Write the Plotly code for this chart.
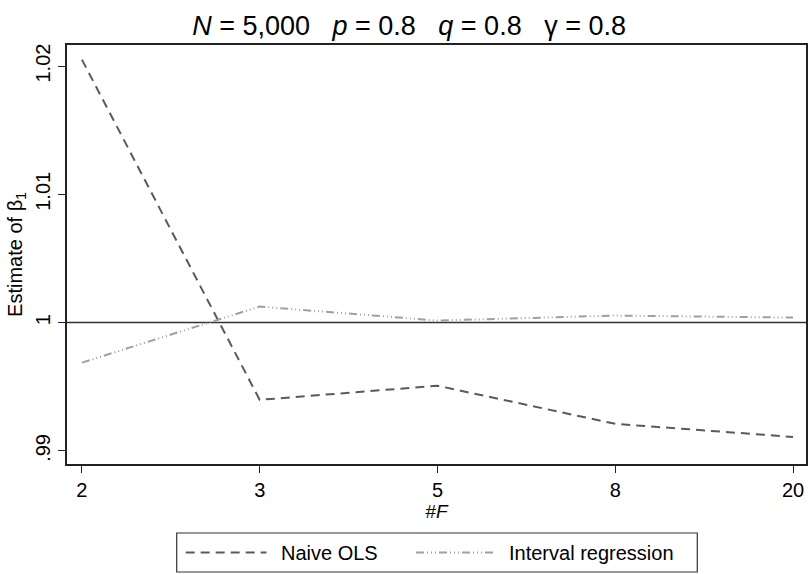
import plotly.graph_objects as go

# Number of F categories (x axis) and the two estimators of beta_1
n_f = ["2", "3", "5", "8", "20"]
naive_ols = [1.0205, 0.99398, 0.99508, 0.99211, 0.99109]
interval_reg = [0.99688, 1.00125, 1.00016, 1.00055, 1.00039]

y_tickvals = [0.99, 1.0, 1.01, 1.02]
y_ticktext = [".99", "1", "1.01", "1.02"]

font_main = "Liberation Sans, Arial, sans-serif"

naive_style = dict(color="#5a5a5a", width=2, dash="9px,6px")
interval_style = dict(color="#a0a0a0", width=2,
                      dash="8px,3px,1px,3px,1px,3px,1px,3px")

fig = go.Figure()

fig.add_trace(go.Scatter(x=n_f, y=naive_ols, mode="lines", name="Naive OLS",
                         line=naive_style, showlegend=False))
fig.add_trace(go.Scatter(x=n_f, y=interval_reg, mode="lines",
                         name="Interval regression", line=interval_style,
                         showlegend=False))

# reference line at the true value
fig.add_hline(y=1.0, line=dict(color="#333333", width=1.5), layer="below")

# Legend box below the axes (paper coordinates)
W, L, B, H = 741, 67, 464, 419


def px(x):
    return (x - L) / W


def py(y):
    return (B - y) / H


fig.add_shape(type="rect", xref="paper", yref="paper",
              x0=px(177), x1=px(699), y0=py(572), y1=py(533),
              line=dict(color="#333333", width=1.2), fillcolor="white")
ly = py(552.5)
legend_items = [
    ("Naive OLS", naive_style, 186, 267, 280),
    ("Interval regression", interval_style, 417, 495, 508),
]
for label, style, s0, s1, tx in legend_items:
    fig.add_shape(type="line", xref="paper", yref="paper",
                  x0=px(s0), x1=px(s1), y0=ly, y1=ly, line=style)
    fig.add_annotation(text=label, xref="paper", yref="paper",
                       x=px(tx), y=ly, xanchor="left", yanchor="middle",
                       showarrow=False,
                       font=dict(family=font_main, size=20, color="black"))

nb = "\u00a0"
title = (f"<i>N</i> = 5,000{nb*3}<i>p</i> = 0.8{nb*3}"
         f"<i>q</i> = 0.8{nb*3}γ = 0.8")

fig.update_layout(
    width=810, height=574,
    margin=dict(l=67, r=2, t=45, b=110),
    paper_bgcolor="white", plot_bgcolor="white",
    showlegend=False,
    title=dict(text=title, x=0.505, xref="container", xanchor="center",
               y=0.955, yref="container", yanchor="middle",
               font=dict(family=font_main, size=27, color="black")),
    xaxis=dict(
        type="category", range=[-0.084, 4.073],
        showgrid=False, zeroline=False,
        showline=True, linecolor="#222222", linewidth=1.5, mirror=True,
        ticks="outside", ticklen=7, tickcolor="#222222",
        tickfont=dict(family=font_main, size=20, color="black"),
        title=dict(text="#<i>F</i>", standoff=2,
                   font=dict(family=font_main, size=19, color="black")),
    ),
    yaxis=dict(
        range=[0.98898, 1.02164],
        tickvals=y_tickvals, ticktext=y_ticktext, tickangle=-90,
        showgrid=False, zeroline=False,
        showline=True, linecolor="#222222", linewidth=1.5, mirror=True,
        ticks="outside", ticklen=7, tickcolor="#222222",
        tickfont=dict(family=font_main, size=20, color="black"),
        title=dict(text="Estimate of β<sub>1</sub>", standoff=4,
                   font=dict(family=font_main, size=20, color="black")),
    ),
)

fig.write_html("out.html")
